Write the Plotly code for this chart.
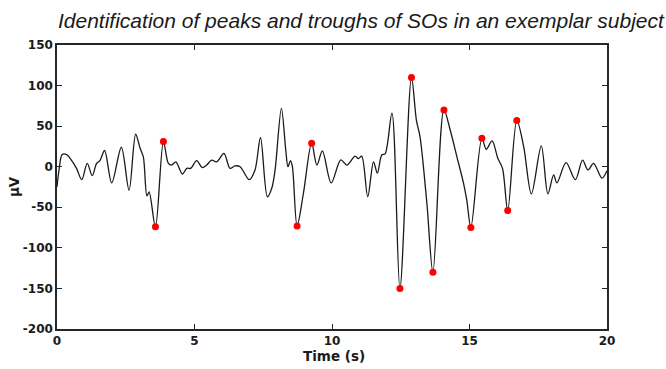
import plotly.graph_objects as go

# Signal trace (time in s, amplitude in µV)
time_s = [0, 0.07, 0.19, 0.35, 0.47, 0.71, 0.9, 1.1, 1.28, 1.44, 1.56, 1.73, 1.99,
          2.34, 2.62, 2.86, 3.02, 3.14, 3.27, 3.35, 3.58, 3.87, 4.05, 4.17, 4.32,
          4.56, 4.72, 4.86, 5.08, 5.28, 5.44, 5.62, 5.81, 6.07, 6.29, 6.47, 6.66,
          6.99, 7.2, 7.4, 7.65, 7.81, 7.93, 8.16, 8.32, 8.4, 8.49, 8.56, 8.73, 8.96,
          9.26, 9.45, 9.65, 9.97, 10.32, 10.54, 10.84, 10.96, 11.08, 11.3, 11.51,
          11.65, 11.81, 11.93, 12.18, 12.47, 12.89, 13.07, 13.2, 13.45, 13.67,
          14.07, 14.3, 14.54, 14.78, 14.9, 15.05, 15.45, 15.61, 15.82, 16.03,
          16.2, 16.39, 16.72, 16.97, 17.25, 17.61, 17.85, 18.06, 18.18, 18.51,
          18.85, 19.11, 19.31, 19.51, 19.82, 20]
amp_uv = [-25, -5, 15, 15, 10.5, -2, -16, 4, -11, 4, 7.5, 20, -20,
          24, -29, 40, 23, 12, -36, -31, -74, 31, 4, 2, 6,
          -9, -2, -2, 7.5, -1, 2, 8, 6, 16.5, -2, 1, 0,
          -16, -4, 36, -37, -26.5, -4, 72, 20, 0, 7.5, 0, -73, -33,
          29, 2, 19.5, -20, 8.4, 2, 13, 10, 13, -37, 6,
          -8, 14.5, 15.8, 66, -150, 110, 57, 37, -45, -130,
          70, 45, 12.5, -20, -41, -75, 35, 21.5, 31.8, 10.4,
          -2, -54, 57, 24.7, -33.5, 25.6, -33.5, -10, -20, 5,
          -16, 8, -4, 4, -14, -5]

# Detected SO troughs and peaks
trough_t = [3.58, 8.73, 12.47, 13.67, 15.05, 16.39]
trough_v = [-74, -73, -150, -130, -75, -54]
peak_t = [3.87, 9.26, 12.89, 14.07, 15.45, 16.72]
peak_v = [31, 29, 110, 70, 35, 57]

x_ticks = [0, 5, 10, 15, 20]
y_ticks = [-200, -150, -100, -50, 0, 50, 100, 150]

axis_color = "#262626"
tick_font = dict(family="DejaVu Sans", size=12, color="#1a1a1a", weight="bold")

fig = go.Figure()
fig.add_trace(go.Scatter(x=time_s, y=amp_uv, mode="lines",
                         line=dict(color="#1a1a1a", width=1.3, shape="spline", smoothing=0.9),
                         showlegend=False, hoverinfo="skip"))
fig.add_trace(go.Scatter(x=trough_t + peak_t, y=trough_v + peak_v, mode="markers",
                         marker=dict(color="#ff0000", size=7, line=dict(width=0)),
                         showlegend=False))

fig.update_layout(
    width=666, height=369,
    margin=dict(l=57, r=59, t=45, b=40),
    paper_bgcolor="white", plot_bgcolor="white",
    xaxis=dict(range=[0, 20], tickvals=x_ticks, ticktext=[str(v) for v in x_ticks],
               ticks="inside", ticklen=5, tickwidth=1, tickcolor=axis_color,
               showline=True, linecolor=axis_color, linewidth=1.5, mirror="ticks",
               showgrid=False, zeroline=False, tickfont=tick_font),
    yaxis=dict(range=[-200, 150], tickvals=y_ticks, ticktext=[str(v) for v in y_ticks],
               ticks="inside", ticklen=5, tickwidth=1, tickcolor=axis_color,
               showline=True, linecolor=axis_color, linewidth=1.5, mirror="ticks",
               showgrid=False, zeroline=False, tickfont=tick_font),
    annotations=[
        dict(text="Identification of peaks and troughs of SOs in an exemplar subject",
             xref="paper", yref="paper", x=0.553, y=1.085, xanchor="center", yanchor="middle",
             showarrow=False,
             font=dict(family="Liberation Sans, Arial", size=21,
                       color="#1a1a1a", style="italic")),
        dict(text="Time (s)", xref="paper", yref="paper", x=0.504, y=-0.095,
             xanchor="center", yanchor="middle", showarrow=False,
             font=dict(family="DejaVu Sans", size=13.5, color="#1a1a1a", weight="bold")),
        dict(text="μV", xref="paper", yref="paper", x=-0.078, y=0.5, textangle=-90,
             xanchor="center", yanchor="middle", showarrow=False,
             font=dict(family="DejaVu Sans", size=13.5, color="#1a1a1a", weight="bold")),
    ],
)

fig.write_html("out.html")
